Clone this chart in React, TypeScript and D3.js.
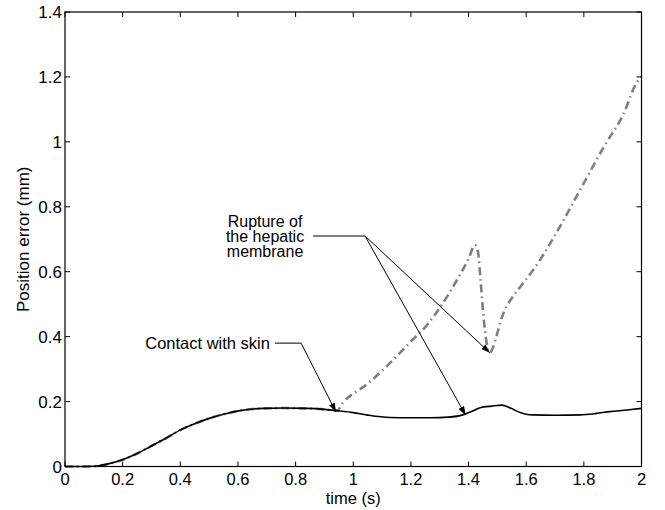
import React from 'react';
import * as d3 from 'd3';

// measured curves, time (s) vs position error (mm)
const nominalT = [0, 0.05, 0.1, 0.121, 0.15, 0.197, 0.25, 0.295, 0.35, 0.399, 0.45, 0.503, 0.55, 0.607, 0.687, 0.76, 0.84, 0.9, 0.943, 1.0, 1.047, 1.127, 1.2, 1.266, 1.33, 1.38, 1.395, 1.42, 1.44, 1.48, 1.516, 1.545, 1.579, 1.6, 1.624, 1.7, 1.787, 1.84, 1.89, 1.95, 2.0];
const nominalY = [0, 0, 0.001, 0.003, 0.008, 0.02, 0.04, 0.061, 0.087, 0.112, 0.132, 0.149, 0.161, 0.172, 0.179, 0.18, 0.179, 0.176, 0.172, 0.166, 0.159, 0.151, 0.15, 0.15, 0.152, 0.159, 0.164, 0.173, 0.181, 0.186, 0.189, 0.18, 0.166, 0.161, 0.159, 0.158, 0.159, 0.163, 0.169, 0.174, 0.179];

const ruptureT = [0.964, 1.05, 1.128, 1.2, 1.26, 1.301, 1.36, 1.4, 1.422, 1.433, 1.442, 1.452, 1.462, 1.474, 1.486, 1.498, 1.512, 1.53, 1.551, 1.585, 1.624, 1.724, 1.787, 1.873, 1.936, 1.985, 2.0];
const ruptureY = [0.196, 0.255, 0.319, 0.385, 0.44, 0.49, 0.575, 0.64, 0.682, 0.66, 0.57, 0.46, 0.385, 0.35, 0.37, 0.405, 0.45, 0.49, 0.52, 0.56, 0.605, 0.75, 0.852, 0.99, 1.083, 1.185, 1.2];

const xTicks = [0, 0.2, 0.4, 0.6, 0.8, 1, 1.2, 1.4, 1.6, 1.8, 2];
const yTicks = [0, 0.2, 0.4, 0.6, 0.8, 1, 1.2, 1.4];

const ruptureLabel = ['Rupture of', 'the hepatic', 'membrane'];
const contactLabel = 'Contact with skin';

const W = 665;
const H = 510;
const margin = { top: 12, right: 23.5, bottom: 43.5, left: 65 };
const font = '"Liberation Sans", Arial, Helvetica, sans-serif';

export default function App() {
  const x = d3.scaleLinear().domain([0, 2]).range([margin.left, W - margin.right]);
  const y = d3.scaleLinear().domain([0, 1.4]).range([H - margin.bottom, margin.top]);

  const nominal = nominalT.map((t, i) => [t, nominalY[i]] as [number, number]);
  // the gray run follows the nominal curve until contact, then diverges
  const rupture = nominal.filter(d => d[0] < 0.95)
    .concat(ruptureT.map((t, i) => [t, ruptureY[i]] as [number, number]));

  const line = d3.line<[number, number]>()
    .x(d => x(d[0]))
    .y(d => y(d[1]))
    .curve(d3.curveMonotoneX);

  const x0 = x(0), x1 = x(2), y0 = y(0), y1 = y(1.4);
  const tick = 5;

  // annotation anchors in data units
  const rupAnchor = { t: 0.694, v: 0.71 };
  const rupElbow = { t: 1.041, v: 0.71 };
  const rupTips = [[1.474, 0.35], [1.39, 0.158]];
  const conAnchor = { t: 0.711, v: 0.38 };
  const conElbow = { t: 0.819, v: 0.38 };
  const conTip = [0.94, 0.168];

  return (
    <svg width={W} height={H} style={{ position: 'absolute', left: 0, top: 0 }} fontFamily={font}>
      <defs>
        <marker id="arr" viewBox="0 0 10 10" refX="10" refY="5" markerWidth="9" markerHeight="9"
          markerUnits="userSpaceOnUse" orient="auto">
          <path d="M0,1.5 L10,5 L0,8.5 Z" fill="#000" />
        </marker>
      </defs>

      <path d={line(rupture) || ''} fill="none" stroke="#808080" strokeWidth={2.6}
        strokeDasharray="8,4,1.5,4" />
      <path d={line(nominal) || ''} fill="none" stroke="#000" strokeWidth={1.6} />

      {/* frame and ticks */}
      <rect x={x0} y={y1} width={x1 - x0} height={y0 - y1} fill="none" stroke="#000" strokeWidth={1.2} />
      {xTicks.map(t => (
        <g key={'x' + t}>
          <line x1={x(t)} x2={x(t)} y1={y0} y2={y0 - tick} stroke="#000" />
          <line x1={x(t)} x2={x(t)} y1={y1} y2={y1 + tick} stroke="#000" />
          <text x={x(t)} y={y0 + 18.5} fontSize={16.5} textAnchor="middle">{String(t)}</text>
        </g>
      ))}
      {yTicks.map(v => (
        <g key={'y' + v}>
          <line x1={x0} x2={x0 + tick} y1={y(v)} y2={y(v)} stroke="#000" />
          <line x1={x1} x2={x1 - tick} y1={y(v)} y2={y(v)} stroke="#000" />
          <text x={x0 - 3} y={y(v)} dy="0.36em" fontSize={17} textAnchor="end">{String(v)}</text>
        </g>
      ))}
      <text x={(x0 + x1) / 2} y={H - 6.5} fontSize={16.5} textAnchor="middle">time (s)</text>
      <text transform={`translate(23,${(y0 + y1) / 2}) rotate(-90)`} dy="0.36em" fontSize={17}
        textAnchor="middle">Position error (mm)</text>

      {/* rupture annotation */}
      {ruptureLabel.map((s, i) => (
        <text key={s} x={x(rupAnchor.t)} y={y(rupAnchor.v) + (i - 1) * 15} dy="0.36em"
          fontSize={16} textAnchor="middle">{s}</text>
      ))}
      <line x1={x(rupAnchor.t) + 48} x2={x(rupElbow.t)} y1={y(rupElbow.v)} y2={y(rupElbow.v)} stroke="#000" />
      {rupTips.map((p, i) => (
        <line key={i} x1={x(rupElbow.t)} y1={y(rupElbow.v)} x2={x(p[0])} y2={y(p[1])}
          stroke="#000" strokeWidth={1} markerEnd="url(#arr)" />
      ))}

      {/* contact annotation */}
      <text x={x(conAnchor.t)} y={y(conAnchor.v)} dy="0.36em" fontSize={16.5} textAnchor="end">{contactLabel}</text>
      <line x1={x(conAnchor.t) + 5} x2={x(conElbow.t)} y1={y(conElbow.v)} y2={y(conElbow.v)} stroke="#000" />
      <line x1={x(conElbow.t)} y1={y(conElbow.v)} x2={x(conTip[0])} y2={y(conTip[1])}
        stroke="#000" strokeWidth={1} markerEnd="url(#arr)" />
    </svg>
  );
}
